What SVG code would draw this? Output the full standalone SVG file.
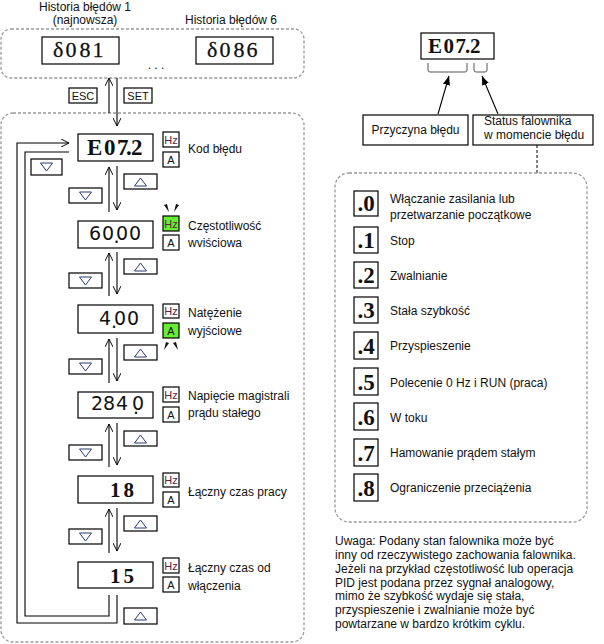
<svg xmlns="http://www.w3.org/2000/svg" width="604" height="644" viewBox="0 0 604 644">
<style>
.t{font-family:"Liberation Sans",Arial,sans-serif;font-size:12px;fill:#111}
.s{font-family:"Liberation Sans",Arial,sans-serif;font-size:11px;fill:#111}
.hz{font-family:"Liberation Sans",Arial,sans-serif;font-size:11px;fill:#602040;text-anchor:middle}
.dash{fill:none;stroke:#999;stroke-width:1.3;stroke-dasharray:3,2}
.box{fill:#fff;stroke:#000;stroke-width:1.2}
.ln{fill:none;stroke:#000;stroke-width:1.1}
.tri{fill:none;stroke:#2a3a70;stroke-width:1}
.led{font-family:"Liberation Serif","Times New Roman",serif;font-weight:bold;fill:#111}
.ledd{font-family:"DejaVu Sans",sans-serif;fill:#111}
.st{font-family:"Liberation Serif","Times New Roman",serif;font-weight:bold;font-size:23px;fill:#111;text-anchor:middle}
.grn{fill:#66ee33}
</style>
<defs>
<marker id="ah" viewBox="0 0 10 10" refX="10" refY="5" markerWidth="8" markerHeight="8" orient="auto" markerUnits="userSpaceOnUse">
<path d="M0,0 L10,5 L0,10" fill="none" stroke="#000" stroke-width="1.2"/>
</marker>
<marker id="ahf" viewBox="0 0 10 10" refX="10" refY="5" markerWidth="9" markerHeight="9" orient="auto" markerUnits="userSpaceOnUse">
<path d="M0,1 L10,5 L0,9 z" fill="#000"/>
</marker>
<polygon id="down" points="-6,-4 6,-4 0,4" class="tri"/>
<polygon id="up" points="-6,4 6,4 0,-4" class="tri"/>
</defs>

<g id="history">
<text class="t" x="85" y="11" text-anchor="middle">Historia błędów 1</text>
<text class="t" x="85" y="24" text-anchor="middle">(najnowsza)</text>
<text class="t" x="231" y="24" text-anchor="middle">Historia błędów 6</text>
<rect class="dash" x="1" y="29" width="303" height="49" rx="10"/>
<rect class="box" x="42" y="37" width="77" height="27"/>
<text x="53 65.5 79.5 92.5" y="57" font-family="Liberation Serif,serif" font-size="22" fill="#111" stroke="#111" stroke-width="0.3">δ081</text>
<rect class="box" x="196" y="37" width="77" height="27"/>
<text x="207 219.5 233.5 246.5" y="57" font-family="Liberation Serif,serif" font-size="22" fill="#111" stroke="#111" stroke-width="0.3">δ086</text>
<text class="t" x="156" y="69" text-anchor="middle">. . .</text>
</g>
<g id="keys">
<rect class="box" x="69" y="88" width="28" height="15"/>
<text class="s" x="83" y="100" text-anchor="middle">ESC</text>
<rect class="box" x="124" y="88" width="28" height="15"/>
<text class="s" x="138" y="100" text-anchor="middle">SET</text>
</g>

<rect id="menu" class="dash" x="1" y="113" width="303" height="529" rx="12"/>

<g id="connectors">
<line class="ln" x1="109" y1="113" x2="109" y2="78" marker-end="url(#ah)"/>
<line class="ln" x1="117" y1="78" x2="117" y2="126" marker-end="url(#ah)"/>
<line class="ln" x1="109" y1="212" x2="109" y2="167" marker-end="url(#ah)"/>
<line class="ln" x1="117" y1="166" x2="117" y2="210" marker-end="url(#ah)"/>
<line class="ln" x1="109" y1="296" x2="109" y2="253" marker-end="url(#ah)"/>
<line class="ln" x1="117" y1="252" x2="117" y2="294" marker-end="url(#ah)"/>
<line class="ln" x1="109" y1="383" x2="109" y2="339" marker-end="url(#ah)"/>
<line class="ln" x1="117" y1="338" x2="117" y2="381" marker-end="url(#ah)"/>
<line class="ln" x1="109" y1="467" x2="109" y2="424" marker-end="url(#ah)"/>
<line class="ln" x1="117" y1="423" x2="117" y2="465" marker-end="url(#ah)"/>
<line class="ln" x1="109" y1="553" x2="109" y2="509" marker-end="url(#ah)"/>
<line class="ln" x1="117" y1="508" x2="117" y2="551" marker-end="url(#ah)"/>
<polyline class="ln" points="117,595 117,623 17,623 17,143 69,143" marker-end="url(#ah)"/>
<polyline class="ln" points="69,152 25,152 25,616 109,616 109,595"/>
<line class="ln" x1="438" y1="114" x2="449" y2="76" marker-end="url(#ahf)"/>
<line class="ln" x1="498" y1="114" x2="482" y2="76" marker-end="url(#ahf)"/>
<line x1="537" y1="145" x2="537" y2="173" stroke="#000" stroke-width="1" stroke-dasharray="3,2"/>
</g>

<g id="keyboxes">
<rect class="box" x="31" y="159" width="31" height="16"/><use href="#down" x="46.5" y="167"/>
<rect class="box" x="124" y="174" width="33" height="15"/><use href="#up" x="140.5" y="182"/>
<rect class="box" x="69" y="188" width="33" height="15"/><use href="#down" x="85.5" y="196"/>
<rect class="box" x="124" y="259" width="33" height="15"/><use href="#up" x="140.5" y="267"/>
<rect class="box" x="69" y="273" width="33" height="15"/><use href="#down" x="85.5" y="281"/>
<rect class="box" x="124" y="345" width="33" height="15"/><use href="#up" x="140.5" y="353"/>
<rect class="box" x="69" y="359" width="33" height="15"/><use href="#down" x="85.5" y="367"/>
<rect class="box" x="124" y="431" width="33" height="15"/><use href="#up" x="140.5" y="439"/>
<rect class="box" x="69" y="445" width="33" height="15"/><use href="#down" x="85.5" y="453"/>
<rect class="box" x="124" y="516" width="33" height="15"/><use href="#up" x="140.5" y="524"/>
<rect class="box" x="69" y="529" width="33" height="15"/><use href="#down" x="85.5" y="537"/>
<rect class="box" x="124" y="608" width="33" height="16"/><use href="#up" x="140.5" y="616"/>
</g>

<g id="n1">
<rect class="box" x="78" y="134" width="75" height="27"/>
<text class="led" font-size="23" x="87 104 117 126 131" y="155">E07.2</text>
<rect class="box" x="163" y="132" width="16" height="15"/><text class="hz" x="171" y="144">Hz</text>
<rect class="box" x="163" y="152" width="16" height="15"/><text class="s" x="171" y="164" text-anchor="middle">A</text>
<text class="t" x="188" y="153">Kod błędu</text>
</g>
<g id="n2">
<rect class="box" x="78" y="221" width="75" height="27"/>
<text class="ledd" font-size="19" x="89 102 113.5 116 129" y="240 240 243 240 240">60.00</text>
<rect class="box grn" x="163" y="216" width="16" height="15"/><text class="hz" x="171" y="228">Hz</text>
<rect class="box" x="163" y="235" width="16" height="15"/><text class="s" x="171" y="247" text-anchor="middle">A</text>
<polygon points="164,205 167,204 169,212" fill="#111"/>
<polygon points="179,205 176,204 174,212" fill="#111"/>
<text class="t" x="188" y="230">Częstotliwość</text>
<text class="t" x="188" y="247">wviściowa</text>
</g>
<g id="n3">
<rect class="box" x="78" y="305" width="75" height="28"/>
<text class="ledd" font-size="19" x="99 111 114 127" y="325 328 325 325">4.00</text>
<rect class="box" x="163" y="304" width="16" height="14"/><text class="hz" x="171" y="315">Hz</text>
<rect class="box grn" x="163" y="323" width="16" height="15"/><text class="s" x="171" y="335" text-anchor="middle">A</text>
<polygon points="166,342 169,343 164,350" fill="#111"/>
<polygon points="176,342 173,343 178,350" fill="#111"/>
<text class="t" x="188" y="317">Natężenie</text>
<text class="t" x="188" y="335">wyjściowe</text>
</g>
<g id="n4">
<rect class="box" x="78" y="392" width="75" height="26"/>
<text class="ledd" font-size="19" x="91 103 116 133 132" y="410 410 410 414 410">284.0</text>
<rect class="box" x="163" y="387" width="16" height="15"/><text class="hz" x="171" y="399">Hz</text>
<rect class="box" x="163" y="407" width="16" height="15"/><text class="s" x="171" y="419" text-anchor="middle">A</text>
<text class="t" x="188" y="400">Napięcie magistrali</text>
<text class="t" x="188" y="417">prądu stałego</text>
</g>
<g id="n5">
<rect class="box" x="78" y="476" width="75" height="27"/>
<text class="led" font-size="21" x="110 123.5" y="497">18</text>
<rect class="box" x="163" y="473" width="16" height="14"/><text class="hz" x="171" y="484">Hz</text>
<rect class="box" x="163" y="492" width="16" height="15"/><text class="s" x="171" y="504" text-anchor="middle">A</text>
<text class="t" x="188" y="496">Łączny czas pracy</text>
</g>
<g id="n6">
<rect class="box" x="78" y="562" width="75" height="26"/>
<text class="led" font-size="21" x="110 123.5" y="583">15</text>
<rect class="box" x="163" y="558" width="16" height="15"/><text class="hz" x="171" y="570">Hz</text>
<rect class="box" x="163" y="577" width="16" height="15"/><text class="s" x="171" y="589" text-anchor="middle">A</text>
<text class="t" x="188" y="572">Łączny czas od</text>
<text class="t" x="188" y="590">włączenia</text>
</g>

<g id="code">
<rect class="box" x="421" y="33" width="73" height="26"/>
<text class="led" font-size="21" x="428 443.5 455.5 465 470" y="53">E07.2</text>
<path d="M428,63 L428,70 Q428,72 430,72 L465,72 Q467,72 467,70 L467,63" fill="none" stroke="#555" stroke-width="1"/>
<path d="M474,63 L474,70 Q474,72 476,72 L485,72 Q487,72 487,70 L487,63" fill="none" stroke="#555" stroke-width="1"/>
</g>
<g id="cause">
<rect class="box" x="363" y="115" width="105" height="30"/>
<text class="t" x="415.5" y="134" text-anchor="middle">Przyczyna błędu</text>
</g>
<g id="status">
<rect class="box" x="473" y="115" width="120" height="30"/>
<text class="t" x="484" y="125">Status falownika</text>
<text class="t" x="484" y="139">w momencie błędu</text>
</g>

<g id="states">
<rect class="dash" x="335" y="173" width="252" height="349" rx="14"/>
<g id="s0"><rect class="box" x="354" y="191" width="24" height="25"/><text class="st" x="366" y="211">.0</text>
<text class="t" x="390" y="203">Włączanie zasilania lub</text><text class="t" x="390" y="219">przetwarzanie początkowe</text></g>
<g id="s1"><rect class="box" x="354" y="227" width="24" height="26"/><text class="st" x="366" y="248">.1</text><text class="t" x="390" y="245">Stop</text></g>
<g id="s2"><rect class="box" x="354" y="262" width="24" height="26"/><text class="st" x="366" y="283">.2</text><text class="t" x="390" y="280">Zwalnianie</text></g>
<g id="s3"><rect class="box" x="354" y="297" width="24" height="26"/><text class="st" x="366" y="318">.3</text><text class="t" x="390" y="315">Stała szybkość</text></g>
<g id="s4"><rect class="box" x="354" y="332" width="24" height="27"/><text class="st" x="366" y="354">.4</text><text class="t" x="390" y="350">Przyspieszenie</text></g>
<g id="s5"><rect class="box" x="354" y="368" width="24" height="27"/><text class="st" x="366" y="390">.5</text><text class="t" x="390" y="387">Polecenie 0 Hz i RUN (praca)</text></g>
<g id="s6"><rect class="box" x="354" y="403" width="24" height="27"/><text class="st" x="366" y="425">.6</text><text class="t" x="390" y="422">W toku</text></g>
<g id="s7"><rect class="box" x="354" y="439" width="24" height="27"/><text class="st" x="366" y="461">.7</text><text class="t" x="390" y="457">Hamowanie prądem stałym</text></g>
<g id="s8"><rect class="box" x="354" y="474" width="24" height="27"/><text class="st" x="366" y="496">.8</text><text class="t" x="390" y="492">Ograniczenie przeciążenia</text></g>
</g>

<g id="note">
<text class="t" x="335" y="545">Uwaga: Podany stan falownika może być</text>
<text class="t" x="335" y="559">inny od rzeczywistego zachowania falownika.</text>
<text class="t" x="335" y="573">Jeżeli na przykład częstotliwość lub operacja</text>
<text class="t" x="335" y="587">PID jest podana przez sygnał analogowy,</text>
<text class="t" x="335" y="600">mimo że szybkość wydaje się stała,</text>
<text class="t" x="335" y="614">przyspieszenie i zwalnianie może być</text>
<text class="t" x="335" y="628">powtarzane w bardzo krótkim cyklu.</text>
</g>
</svg>
